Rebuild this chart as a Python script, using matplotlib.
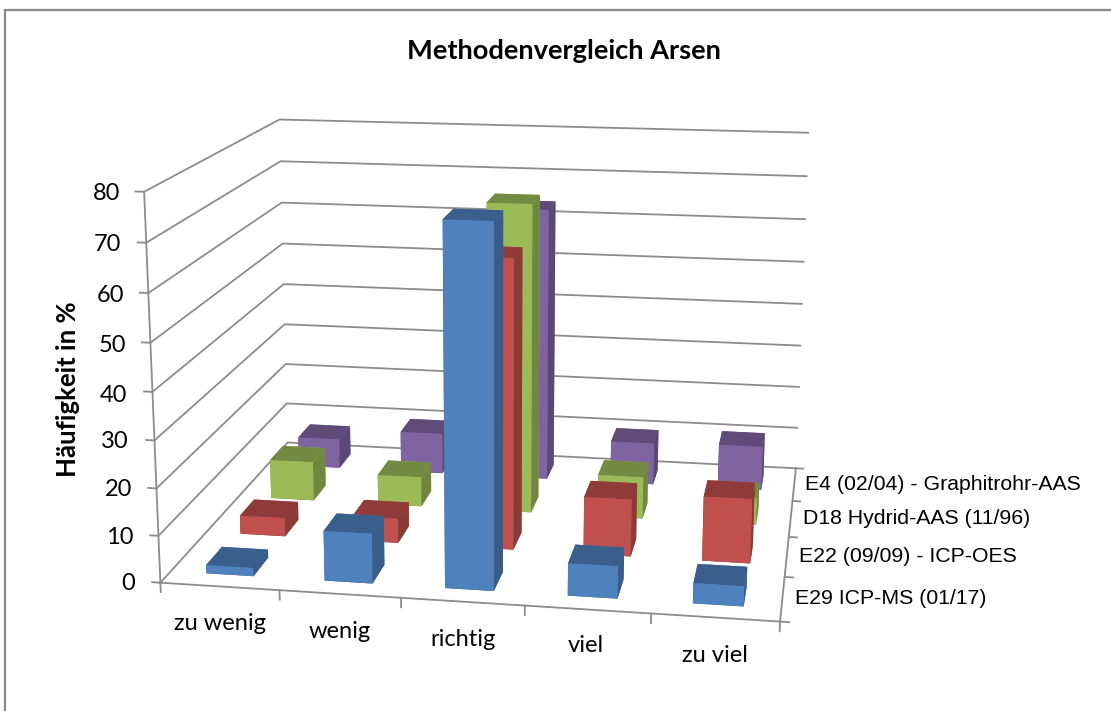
import numpy as np
import matplotlib
matplotlib.use('Agg')
from matplotlib import pyplot as plt
from matplotlib.colors import to_rgb

categories = ['zu wenig', 'wenig', 'richtig', 'viel', 'zu viel']
series = ['E29 ICP-MS (01/17)', 'E22 (09/09) - ICP-OES', 'D18 Hydrid-AAS (11/96)', 'E4 (02/04) - Graphitrohr-AAS']
e29 = [1.8, 10.6, 75.2, 6.8, 4.2]
e22 = [4.1, 5.4, 62.8, 12.5, 14]
d18 = [9, 6.8, 69.5, 9.5, 6]
e4 = [7, 9.6, 63.6, 9.8, 10.3]
values = [e29, e22, d18, e4]
colors = ['#4F81BD', '#C0504D', '#9BBB59', '#8064A2']
zticks = [0, 10, 20, 30, 40, 50, 60, 70, 80]

def shade(c, f):
    return tuple(v * f for v in to_rgb(c))

W_FIG, H_FIG = 1111, 711
# camera numbers fitted to the corners of the chart floor and walls
elev, azim = 14.14, -80.34
kx, ky, kz = 0.5518, 0.5433, 0.02223
F = 2096.3
Tx, Tz = 2.436, 41.88
X0, Y0 = 496.3, 335.5

nx = len(categories)
ny = len(series)
hx = nx - Tx
hy = ny / 2
hz = Tz

W = 3000.0
focal = F * 0.185 / W
# mplot3d puts the eye at 10*focal, so the box has to scale with it
box = focal * np.array([2 * hx * kx, 2 * hy * ky, 2 * hz * kz])
zoom = np.linalg.norm(box) / (1.8294640721620434 * 25 / 24)

left = X0 - W * 0.095 / 0.185
bottom = H_FIG - Y0 - W * 0.095 / 0.185
fig = plt.figure(figsize=(W_FIG / 100, H_FIG / 100), dpi=100)
ax = fig.add_axes([left / W_FIG, bottom / H_FIG, W / W_FIG, W / H_FIG], projection='3d')
ax.set_proj_type('persp', focal_length=focal)
ax.view_init(elev=elev, azim=azim)
ax.set_box_aspect(box, zoom=zoom)
ax.set_axis_off()
ax.patch.set_alpha(0)
ax.computed_zorder = False
ax.set_xlim(Tx - hx, Tx + hx, view_margin=0)
ax.set_ylim(0, ny, view_margin=0)
ax.set_zlim(0, 2 * hz, view_margin=0)

grid = '#8c8c8c'
lw = 1.3
for z in zticks:
    ax.plot([0, 0, nx], [0, ny, ny], [z, z, z], color=grid, lw=lw, zorder=1)
    ax.plot([0, -0.07], [0, 0], [z, z], color=grid, lw=lw, zorder=1)
ax.plot([0, 0], [0, 0], [0, 80], color=grid, lw=lw, zorder=1)
ax.plot([0, nx, nx], [0, 0, ny], [0, 0, 0], color=grid, lw=lw, zorder=1)
for i in range(nx + 1):
    ax.plot([i, i], [0, 0], [0, -2], color=grid, lw=lw, zorder=1)
for j in range(ny + 1):
    ax.plot([nx, nx + 0.07], [j, j], [0, 0], color=grid, lw=lw, zorder=1)

# back row first, left to right, so the nearer bars cover the others
zo = 2
w = 0.40
d = 0.45
for j in range(ny - 1, -1, -1):
    for i in range(nx):
        c = colors[j]
        # faces: bottom, top, front, back, left, right
        fc = [shade(c, 0.7), shade(c, 0.74), c, c, shade(c, 0.7), shade(c, 0.72)]
        ax.bar3d(i + 0.505 - w / 2, j + 0.5 - d / 2, 0, w, d, values[j][i], color=fc, shade=False, zorder=zo)
        zo += 1

fig.patches.append(plt.Rectangle((5 / W_FIG, -0.01), 1.1, 0.996, transform=fig.transFigure, fill=False, ec='#8a8a8a', lw=1.6))
fig.text(563.5 / W_FIG, 1 - 51 / H_FIG, 'Methodenvergleich Arsen', ha='center', va='center', fontsize=19.6, fontweight='bold', family='Lato')
fig.text(68 / W_FIG, 1 - 389 / H_FIG, 'Häufigkeit in %', rotation=90, ha='center', va='center', fontsize=18.5, fontweight='bold', family='Lato')
for z, xp, yp in zip(zticks, [135, 134, 132, 129, 127, 126, 124, 121, 120], [584, 537, 490, 442, 395, 345, 295, 245, 193]):
    fig.text(xp / W_FIG, 1 - yp / H_FIG, str(z), ha='right', va='center', fontsize=17, family='Lato')
for c, xp, yp in zip(categories, [220, 340, 463, 586, 715], [624, 631, 639, 646, 655]):
    fig.text(xp / W_FIG, 1 - yp / H_FIG, c, ha='center', va='center', fontsize=17, family='Lato')
for s, xp, yp in zip(series, [795, 799, 803, 805], [599, 557, 519, 484]):
    fig.text(xp / W_FIG, 1 - yp / H_FIG, s, ha='left', va='center', fontsize=15.3, family='Liberation Sans')

fig.savefig('out.png', dpi=100)
